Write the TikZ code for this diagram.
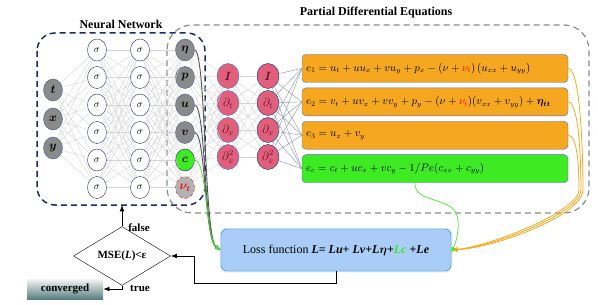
\documentclass[tikz,border=0pt]{standalone}
\usepackage{amsmath,amssymb}
\usepackage{fontspec}
\setmainfont{Liberation Serif}
\usepackage{xcolor}
\usepackage{tikz}
\usetikzlibrary{positioning,arrows.meta,calc,shapes.geometric}
\definecolor{netnavy}{HTML}{1C2A6E}
\definecolor{framegray}{HTML}{8C8C8C}
\definecolor{nodegray}{HTML}{8A8A8A}
\definecolor{nodeedge}{HTML}{4B5C9E}
\definecolor{opfill}{HTML}{E0607C}
\definecolor{optext}{HTML}{6A0F2A}
\definecolor{eqorange}{HTML}{F5A81F}
\definecolor{eqgreen}{HTML}{3EEA22}
\definecolor{eqedge}{HTML}{4E6FC8}
\definecolor{lossfill}{HTML}{A9CDF6}
\definecolor{lossedge}{HTML}{3F7BE0}
\definecolor{linkgray}{HTML}{D4D4D4}
\definecolor{linkblue}{HTML}{8894A6}
\definecolor{curvegray}{HTML}{555555}

\begin{document}
\begin{tikzpicture}[x=1pt, y=-1pt,
  font=\normalsize,
  inp/.style={ellipse, draw=nodeedge, fill=nodegray, minimum width=19pt,
              minimum height=22pt, inner sep=0pt, font=\large},
  hid/.style={ellipse, draw=netnavy, fill=white, minimum width=19pt,
              minimum height=22pt, inner sep=0pt},
  opn/.style={ellipse, draw=eqedge, fill=opfill, text=optext,
              minimum width=22pt, minimum height=25pt, inner sep=0pt,
              font=\large},
  eqn/.style={draw=eqedge, fill=eqorange, rounded corners=4pt,
              minimum width=266pt, minimum height=28pt, text width=258pt,
              align=left, font=\fontsize{10.5}{12}\selectfont},
  lossbox/.style={draw=lossedge, fill=lossfill, rounded corners=6pt,
                  minimum width=230pt, minimum height=42pt,
                  preaction={draw=cyan!20, line width=2.5pt}},
  lbl/.style={font=\fontsize{11}{13}\selectfont\bfseries},
  lk/.style={-{Latex[length=2.2mm]}, thick},
  nlk/.style={linkgray, line width=0.4pt},
  blk/.style={linkblue, line width=0.4pt},
  glk/.style={-{Latex[length=2mm]}, curvegray, line width=0.9pt},
  gnk/.style={-{Latex[length=2mm]}, eqgreen, line width=0.7pt},
  olk/.style={-{Latex[length=2.2mm]}, eqorange, line width=0.8pt},
]
\useasboundingbox (0,0) rectangle (598,305);
% Frames
\draw[netnavy, line width=1.5pt, dash pattern=on 6pt off 4pt,
  rounded corners=18pt] (37,33) rectangle (205,205);
\draw[framegray, line width=1.2pt, dash pattern=on 6pt off 4pt,
  rounded corners=25pt] (167,25) rectangle (589,213);
\node[font=\large\bfseries] (nntitle) at (121,24) {Neural Network};
\node[font=\large\bfseries] (pdetitle) at (376,13) {Partial Differential Equations};
% Network
\node[inp] (int) at (53,90) {$\boldsymbol{t}$};
\node[inp] (inx) at (53,119) {$\boldsymbol{x}$};
\node[inp] (iny) at (53,148) {$\boldsymbol{y}$};
\foreach \r/\y in {1/50,2/77.5,3/105,4/132.5,5/160,6/187.5} {
  \node[hid] (sa\r) at (97,\y) {$\sigma$};
  \node[hid] (sb\r) at (140,\y) {$\sigma$};
}
\node[inp] (oeta) at (185,50) {$\boldsymbol{\eta}$};
\node[inp] (op) at (185,77.5) {$\boldsymbol{p}$};
\node[inp] (ou) at (185,105) {$\boldsymbol{u}$};
\node[inp] (ov) at (185,132.5) {$\boldsymbol{v}$};
\node[inp, fill=eqgreen, draw=netnavy] (oc) at (185,160) {$\boldsymbol{c}$};
\node[inp, fill=gray!60, draw=red, dashed] (onu) at (185,187.5)
  {$\color{red}\boldsymbol{\nu_t}$};
% Operators
\node[opn] (ia) at (228,76) {$\boldsymbol{I}$};
\node[opn] (dta) at (228,103) {$\partial_t$};
\node[opn] (dxa) at (228,130) {$\partial_x$};
\node[opn] (dxxa) at (228,157) {$\partial_x^2$};
\node[opn, draw=netnavy] (ib) at (268,76) {$\boldsymbol{I}$};
\node[opn, draw=netnavy] (dtb) at (268,103) {$\partial_t$};
\node[opn, draw=netnavy] (dxb) at (268,130) {$\partial_x$};
\node[opn, draw=netnavy] (dxxb) at (268,157) {$\partial_x^2$};
\foreach \a in {int,inx,iny} \foreach \r in {1,...,6} \draw[nlk] (\a) -- (sa\r);
\foreach \a in {1,...,6} \foreach \r in {1,...,6} \draw[nlk] (sa\a) -- (sb\r);
\foreach \a in {1,...,6} \foreach \r in {oeta,op,ou,ov,oc,onu} \draw[nlk] (sb\a) -- (\r);
\foreach \a in {oeta,op,ou,ov,oc,onu} \foreach \r in {ia,dta,dxa,dxxa} \draw[nlk] (\a) -- (\r);
\foreach \a in {ia,dta,dxa,dxxa} \foreach \r in {ib,dtb,dxb,dxxb} \draw[nlk] (\a) -- (\r);
% Residuals
\node[eqn] (e1) at (435,68.5)
  {$e_1 = u_t + uu_x + vu_y + p_x - (\nu + {\color{red}\nu_t})\,(u_{xx} + u_{yy})$};
\node[eqn, below=5pt of e1] (e2)
  {$e_2 = v_t + uv_x + vv_y + p_y - (\nu + {\color{red}\nu_t})(v_{xx} + v_{yy}) + \boldsymbol{\eta_{tt}}$};
\node[eqn, below=5pt of e2] (e3) {$e_3 = u_x + v_y$};
\node[eqn, below=5pt of e3, fill=eqgreen] (ec)
  {$e_c = c_t + uc_x + vc_y - 1/Pe(c_{xx} + c_{yy})$};
\foreach \a in {ib,dtb,dxb,dxxb} \foreach \r in {e1,e2,e3,ec} \draw[blk] (\a) -- (\r.west);
% Loss and stopping test
\node[lossbox, font=\large] (loss) at (336,250)
  {Loss function \textbf{\textit{L}= \textit{Lu}+ \textit{Lv}+\textit{L}$\boldsymbol{\eta}$+\textcolor{eqgreen}{\textit{Lc}} +\textit{Le}}};
\node[diamond, draw, fill=white, minimum width=97pt, minimum height=43pt,
  inner sep=0pt, lbl] (dia) at (122,256) {MSE(\textit{L})<ε};
\node[lbl, top color=gray!8, bottom color=teal!30!gray, minimum width=76pt,
  minimum height=20pt] (conv) at (65,289) {converged};
\coordinate (nnbot) at (122,205);
\draw[lk] (dia.north) -- (nnbot);
\node[lbl] (fl) at (139,228) {false};
\draw[lk] (loss.south) -- ++(0,12) -| ($(dia.east)+(24,0)$) -- (dia.east);
\draw[lk] (dia.south) |- (conv.east);
\node[lbl] (tr) at (140,288) {true};
% Feeds into the loss
\draw[glk] (oeta.east) .. controls (206,50) and (204,240) .. (loss.west);
\draw[glk] (ou.east) .. controls (206,105) and (204,240) .. (loss.west);
\draw[glk] (ov.east) .. controls (206,132.5) and (204,240) .. (loss.west);
\draw[gnk] (oc.east) .. controls (207,160) and (206,240) .. (loss.west);
\draw[olk] (e1.east) .. controls (581,68.5) and (583,160) .. (583,190)
  .. controls (583,215) and (495,248) .. (loss.east);
\draw[olk] (e2.east) .. controls (579,101.5) and (581,162) .. (581,190)
  .. controls (581,213) and (493,247) .. (loss.east);
\draw[olk] (e3.east) .. controls (577,134.5) and (579,165) .. (579,190)
  .. controls (579,211) and (491,246) .. (loss.east);
\draw[gnk] ([xshift=-20pt]ec.south) .. controls (414,205) and (456,195)
  .. (458,220) .. controls (459,232) and (456,242) .. ([yshift=-3pt]loss.east);
\end{tikzpicture}
\end{document}
